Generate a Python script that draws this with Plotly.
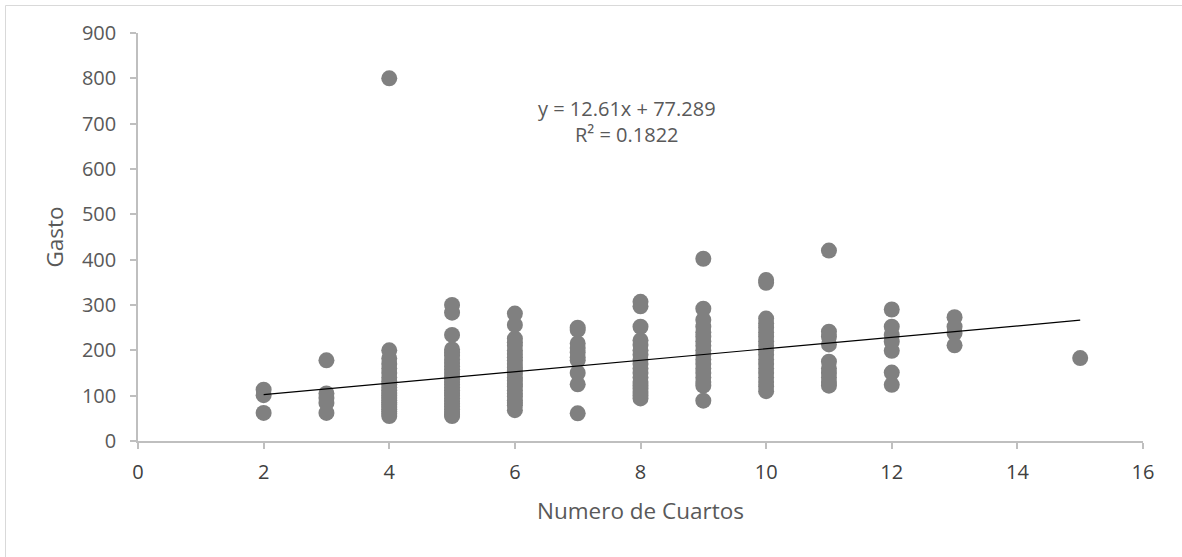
import plotly.graph_objects as go

# Número de cuartos (x) y gasto observado (y), agrupados por número de cuartos
cuartos = [2, 3, 4, 5, 6, 7, 8, 9, 10, 11, 12, 13, 15]

gasto_2 = [113, 101, 62]
gasto_3 = [178, 105, 95, 84, 62]
gasto_4 = [800, 200, 182, 170, 160, 150, 140, 132, 125, 118, 112, 106, 100,
           95, 90, 85, 80, 75, 70, 65, 60, 55]
gasto_5 = [300, 283, 234, 202, 195, 188, 180, 172, 165, 158, 150, 143, 136,
           130, 124, 118, 112, 106, 100, 94, 88, 82, 76, 70, 64, 58, 55]
gasto_6 = [281, 256, 226, 218, 210, 200, 192, 185, 178, 170, 162, 155, 148,
           140, 133, 126, 120, 112, 105, 98, 90, 84, 79, 68]
gasto_7 = [250, 245, 215, 205, 195, 185, 178, 150, 125, 61]
gasto_8 = [307, 297, 252, 222, 212, 200, 190, 180, 170, 160, 150, 140, 130,
           122, 115, 108, 100, 94]
gasto_9 = [402, 292, 267, 252, 240, 230, 220, 210, 200, 190, 180, 170, 160,
           150, 140, 130, 122, 89]
gasto_10 = [355, 349, 270, 260, 250, 240, 230, 220, 210, 200, 190, 180, 170,
            160, 150, 140, 130, 120, 110]
gasto_11 = [420, 241, 230, 213, 175, 160, 150, 140, 130, 122]
gasto_12 = [290, 252, 234, 219, 199, 151, 124]
gasto_13 = [273, 252, 238, 211]
gasto_15 = [183]

grupos = [gasto_2, gasto_3, gasto_4, gasto_5, gasto_6, gasto_7, gasto_8,
          gasto_9, gasto_10, gasto_11, gasto_12, gasto_13, gasto_15]

# Línea de tendencia lineal
pendiente = 12.61
intercepto = 77.289
r2 = 0.1822

x_vals = []
y_vals = []
for c, g in zip(cuartos, grupos):
    x_vals.extend([c] * len(g))
    y_vals.extend(g)

x_min, x_max = min(x_vals), max(x_vals)
tend_x = [x_min, x_max]
tend_y = [pendiente * v + intercepto for v in tend_x]

FONT = "Open Sans"
GRIS = "#595959"

fig = go.Figure()
fig.add_trace(go.Scatter(
    x=x_vals, y=y_vals, mode="markers",
    marker=dict(color="#808080", size=16, line=dict(width=0)),
    showlegend=False, hoverinfo="x+y",
))
fig.add_trace(go.Scatter(
    x=tend_x, y=tend_y, mode="lines",
    line=dict(color="#000000", width=1.2),
    showlegend=False, hoverinfo="skip",
))

fig.add_annotation(
    x=(627 - 138) / 1005, y=(441 - 121) / 408, xref="paper", yref="paper",
    xanchor="center", yanchor="middle",
    text=f"y = {pendiente}x + {intercepto}<br>R² = {r2}",
    showarrow=False, align="center",
    font=dict(family=FONT, size=20, color=GRIS),
)

axis_common = dict(
    showgrid=False, zeroline=False, showline=True, linecolor="#bfbfbf",
    linewidth=1.5, ticks="outside", ticklen=6, tickcolor="#bfbfbf",
    tickwidth=1.5,
)

fig.update_layout(
    width=1182, height=557,
    margin=dict(l=138, r=39, t=33, b=116),
    paper_bgcolor="white", plot_bgcolor="white",
    font=dict(family=FONT, color=GRIS),
    xaxis=dict(
        range=[0, 16], tickvals=list(range(0, 17, 2)),
        tickfont=dict(family=FONT, size=20, color="#404040"),
        ticklabelstandoff=6,
        title=dict(text="Numero de Cuartos", standoff=19,
                   font=dict(family=FONT, size=22.5, color=GRIS)),
        **axis_common,
    ),
    yaxis=dict(
        range=[0, 900], tickvals=list(range(0, 901, 100)),
        tickfont=dict(family=FONT, size=20, color=GRIS),
        ticklabelstandoff=10,
        title=dict(text="Gasto", standoff=12,
                   font=dict(family=FONT, size=22.5, color=GRIS)),
        **axis_common,
    ),
    shapes=[
        dict(type="line", xref="paper", yref="paper",
             x0=(5.5 - 138) / 1005, x1=(1182 - 138) / 1005,
             y0=(441 - 5.5) / 408, y1=(441 - 5.5) / 408,
             line=dict(color="#d9d9d9", width=1)),
        dict(type="line", xref="paper", yref="paper",
             x0=(5.5 - 138) / 1005, x1=(5.5 - 138) / 1005,
             y0=(441 - 5.5) / 408, y1=(441 - 557) / 408,
             line=dict(color="#d9d9d9", width=1)),
    ],
)

fig.write_html("out.html")
